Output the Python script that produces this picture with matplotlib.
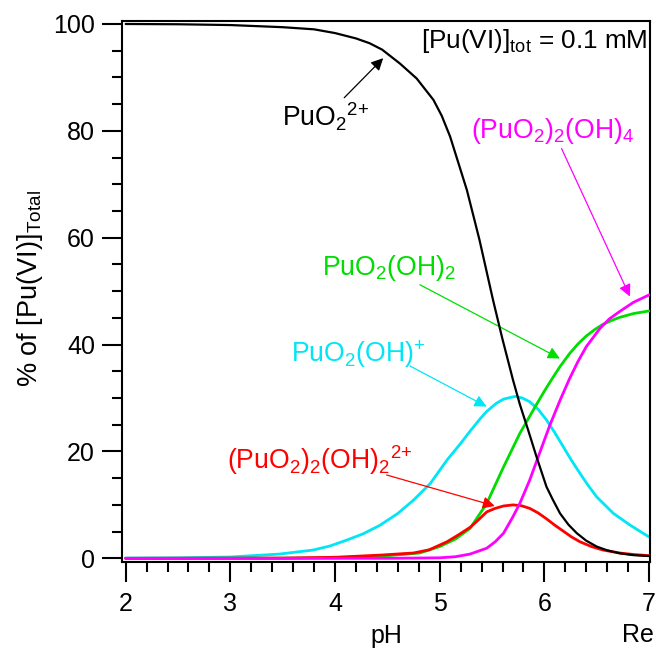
import numpy as np
from matplotlib import pyplot as plt

plt.rcParams['font.family'] = ['Liberation Sans', 'DejaVu Sans']
plt.rcParams['mathtext.default'] = 'regular'

# values (pH, % of total Pu(VI))
ph_free = [2.0, 2.5, 3.0, 3.5, 3.8, 4.0, 4.2, 4.33, 4.45, 4.62, 4.78, 4.94, 5.02,
           5.10, 5.26, 5.38, 5.51, 5.60, 5.70, 5.766, 5.845, 5.925, 6.02, 6.08,
           6.15, 6.23, 6.31, 6.40, 6.50, 6.60, 6.72, 6.85, 7.0]
pct_free = [100.0, 99.95, 99.8, 99.4, 99.0, 98.3, 97.3, 96.4, 95.2, 92.6, 89.8, 85.8,
            82.8, 78.9, 68.9, 59.6, 48.3, 41.0, 33.4, 28.8, 24.0, 19.0, 13.4, 11.0,
            8.4, 6.3, 4.7, 3.3, 2.2, 1.5, 0.94, 0.6, 0.43]

ph_oh = [2.0, 2.5, 3.0, 3.47, 3.79, 3.95, 4.11, 4.27, 4.43, 4.6, 4.75, 4.91, 5.07,
         5.2, 5.29, 5.39, 5.45, 5.54, 5.61, 5.72, 5.79, 5.86, 5.94, 6.02, 6.10,
         6.18, 6.26, 6.34, 6.42, 6.50, 6.66, 6.82, 7.0]
pct_oh = [0.05, 0.1, 0.25, 0.8, 1.55, 2.3, 3.4, 4.6, 6.2, 8.4, 10.9, 14.0, 18.4,
          21.5, 23.8, 26.2, 27.5, 29.0, 29.8, 30.3, 30.0, 29.3, 27.9, 25.9, 23.5,
          20.9, 18.3, 15.9, 13.6, 11.5, 8.4, 6.2, 4.0]

ph_oh2 = [2.0, 3.5, 4.0, 4.5, 4.81, 5.0, 5.15, 5.29, 5.45, 5.61, 5.766, 5.925, 6.0,
          6.08, 6.15, 6.24, 6.32, 6.40, 6.48, 6.56, 6.64, 6.72, 6.85, 7.0]
pct_oh2 = [0.0, 0.02, 0.1, 0.5, 1.0, 2.2, 3.6, 5.6, 10.3, 17.1, 23.4, 28.8, 31.3,
           33.8, 35.9, 38.3, 40.1, 41.6, 42.8, 43.8, 44.5, 45.1, 45.8, 46.3]

ph_dim2 = [2.0, 3.5, 4.0, 4.43, 4.75, 4.9, 5.07, 5.18, 5.29, 5.37, 5.45, 5.53, 5.61,
           5.70, 5.78, 5.86, 5.94, 6.02, 6.10, 6.18, 6.26, 6.34, 6.45, 6.56, 6.72,
           6.86, 7.0]
pct_dim2 = [0.0, 0.05, 0.2, 0.6, 1.0, 1.6, 3.1, 4.4, 5.8, 7.2, 8.7, 9.35, 9.8,
            10.0, 9.85, 9.35, 8.5, 7.4, 6.2, 5.1, 4.0, 3.1, 2.2, 1.55, 1.0,
            0.7, 0.5]

ph_dim4 = [2.0, 4.5, 5.0, 5.15, 5.29, 5.45, 5.53, 5.61, 5.70, 5.766, 5.86, 5.96,
           6.05, 6.15, 6.24, 6.32, 6.40, 6.53, 6.62, 6.72, 6.85, 7.0]
pct_dim4 = [0.0, 0.0, 0.1, 0.3, 0.8, 1.9, 3.1, 4.7, 7.8, 10.3, 14.65, 20.0,
            24.8, 29.6, 33.6, 36.8, 39.6, 43.0, 44.8, 46.2, 47.9, 49.3]

c_cyan = '#00E6F5'
c_green = '#00DD00'
c_red = '#FF0000'
c_mag = '#FF00FF'

fig = plt.figure(figsize=(6.56, 6.52), dpi=100)
ax = fig.add_axes([0.186, 0.138, 0.805, 0.8298])

kw = dict(solid_joinstyle='round', solid_capstyle='round')
ax.plot(ph_oh, pct_oh, color=c_cyan, lw=2.0, zorder=2, **kw)
ax.plot(ph_oh2, pct_oh2, color=c_green, lw=2.0, zorder=3, **kw)
ax.plot(ph_dim2, pct_dim2, color=c_red, lw=2.0, zorder=4, **kw)
ax.plot(ph_dim4, pct_dim4, color=c_mag, lw=2.0, zorder=5, **kw)
ax.plot(ph_free, pct_free, color='black', lw=1.6, zorder=6, **kw)

ax.set_xlim(1.965, 7.01)
ax.set_ylim(-0.69, 100.56)
ax.set_xticks([2, 3, 4, 5, 6, 7])
ax.set_xticks(np.arange(2, 7.01, 0.2), minor=True)
ax.set_yticks([0, 20, 40, 60, 80, 100])
ax.set_yticks(np.arange(0, 100.1, 5), minor=True)
ax.tick_params(which='major', length=14.4, width=1.5, labelsize=18, direction='out')
ax.tick_params(which='minor', length=7.2, width=1.5, direction='out')
ax.tick_params(axis='x', which='major', pad=7)
ax.tick_params(axis='y', which='major', pad=5)
for s in ax.spines.values():
    s.set_linewidth(1.5)

ax.set_xlabel('pH', fontsize=18, va='center')
ax.xaxis.set_label_coords(0.5, -0.137)
ax.set_ylabel(r'% of [Pu(VI)]$_{Total}$', fontsize=19.5, va='center')
ax.yaxis.set_label_coords(-0.174, 0.505)

ax.text(0.996, 0.95, r'[Pu(VI)]$_{tot}$ = 0.1 mM', transform=ax.transAxes,
        ha='right', va='baseline', fontsize=18.8)

fs = 19.2
ap = dict(arrowstyle='-|>', lw=0.9, mutation_scale=18, shrinkA=0, shrinkB=0)
ax.annotate('', xy=(4.46, 93.6), xytext=(4.088, 86.2),
            arrowprops=dict(ap, color='black'))
ax.text(3.49, 80.8, r'PuO$_2{}^{2{+}}$', color='black', fontsize=fs, va='baseline')

ax.annotate('', xy=(6.817, 49.0), xytext=(6.164, 76.7),
            arrowprops=dict(ap, color=c_mag))
ax.text(5.30, 78.6, r'(PuO$_2$)$_2$(OH)$_4$', color=c_mag, fontsize=fs, va='baseline')

ax.annotate('', xy=(6.148, 37.4), xytext=(4.811, 51.2),
            arrowprops=dict(ap, color=c_green))
ax.text(3.875, 53.0, r'PuO$_2$(OH)$_2$', color=c_green, fontsize=fs, va='baseline')

ax.annotate('', xy=(5.448, 28.4), xytext=(4.716, 36.0),
            arrowprops=dict(ap, color=c_cyan))
ax.text(3.575, 36.8, r'PuO$_2$(OH)$^{+}$', color=c_cyan, fontsize=fs, va='baseline')

ax.annotate('', xy=(5.527, 9.8), xytext=(4.493, 15.6),
            arrowprops=dict(ap, color=c_red))
ax.text(2.965, 16.8, r'(PuO$_2$)$_2$(OH)$_2{}^{2{+}}$', color=c_red, fontsize=fs,
        va='baseline')

fig.text(622 / 656, 1 - 635 / 652, 'Re', fontsize=18, va='center')

fig.savefig('out.png', dpi=100)
